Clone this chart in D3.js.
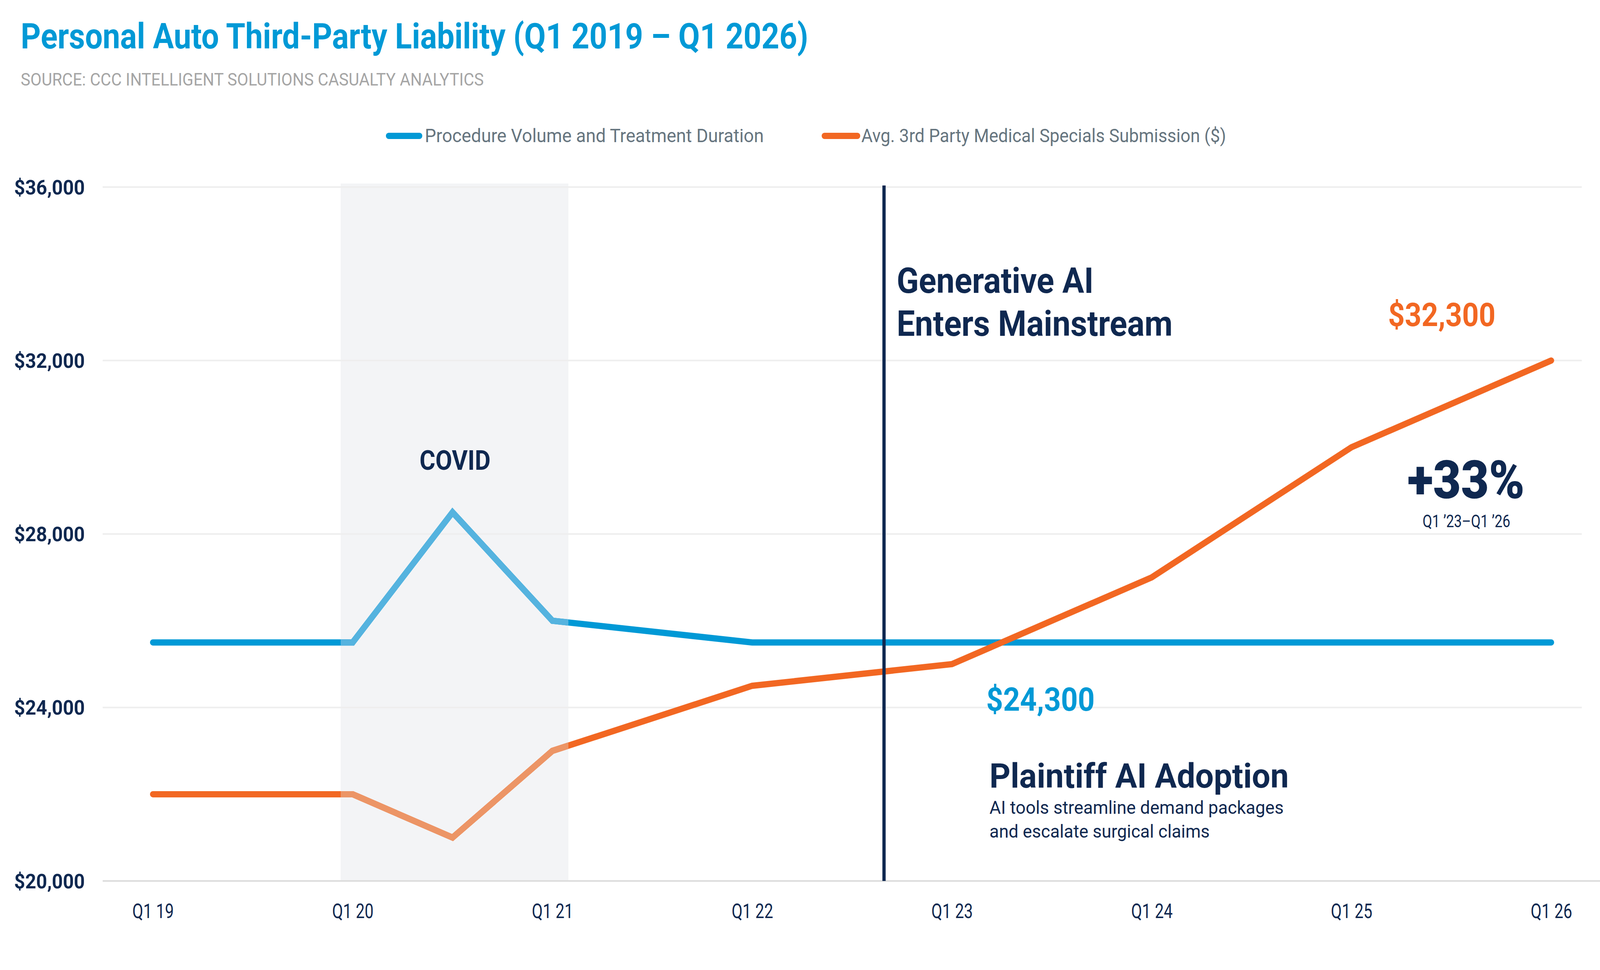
<!DOCTYPE html>
<html>
<head>
<meta charset="utf-8">
<script src="https://cdn.jsdelivr.net/npm/d3@7"></script>
<style>
  html, body { margin: 0; padding: 0; background: #ffffff; overflow: hidden; width: 100%; height: 100%; }
  #chart { width: 100vw; height: 100vh; }
  svg { display: block; width: 100vw; height: 100vh; font-family: Roboto, "Noto Sans", sans-serif; }
</style>
</head>
<body>
<div id="chart"></div>
<script>
// data
const periods = [2019, 2020, 2020.5, 2021, 2022, 2023, 2024, 2025, 2026];
const procedureValues = [25500, 25500, 28500, 26000, 25500, 25500, 25500, 25500, 25500];
const specialsValues = [22000, 22000, 21000, 23000, 24500, 25000, 27000, 30000, 32000];
const xTickYears = [2019, 2020, 2021, 2022, 2023, 2024, 2025, 2026];
const xTickLabels = ["Q1 19", "Q1 20", "Q1 21", "Q1 22", "Q1 23", "Q1 24", "Q1 25", "Q1 26"];
const yTickValues = [20000, 24000, 28000, 32000, 36000];
const covidBand = [2019.94, 2021.08];
const genAIDate = 2022.66;
const seriesNames = ["Procedure Volume and Treatment Duration", "Avg. 3rd Party Medical Specials Submission ($)"];

const W = 4395, H = 2484;
const navy = "#0f2850";
const blue = "#0099d6", blueLight = "#55b3df";
const orange = "#f26722", orangeLight = "#ec9566";

// drawn in a fixed 4395x2484 space, stretched to whatever the window is
const svg = d3.select("#chart").append("svg")
    .attr("viewBox", `0 0 ${W} ${H}`)
    .attr("preserveAspectRatio", "none");

// condense text a bit so it reads like the original narrow face
function fit(sel, len) {
    return sel.attr("textLength", len).attr("lengthAdjust", "spacingAndGlyphs");
}

// =========================
// SCALES
// =========================
const x = d3.scaleLinear().domain([2019, 2026]).range([420, 4261]);
const y = d3.scaleLinear().domain([20000, 36000]).range([2256, 479]);
const gridLeft = 282, gridRight = 4345;

// =========================
// COVID BAND
// =========================
svg.append("rect")
    .attr("x", x(covidBand[0]))
    .attr("y", y(36000) - 9)
    .attr("width", x(covidBand[1]) - x(covidBand[0]))
    .attr("height", y(20000) - y(36000) + 9)
    .attr("fill", "#f3f4f6");

// =========================
// GRID + Y AXIS
// =========================
svg.append("g")
    .selectAll("line")
    .data(yTickValues)
    .join("line")
    .attr("x1", gridLeft)
    .attr("x2", d => d === 20000 ? W : gridRight)
    .attr("y1", d => y(d))
    .attr("y2", d => y(d))
    .attr("stroke", d => d === 20000 ? "#dcdcdc" : "#eeeeee")
    .attr("stroke-width", 4);

const yAxis = svg.append("g")
    .attr("transform", "translate(233,0)")
    .call(d3.axisLeft(y).tickValues(yTickValues).tickSize(0).tickPadding(0)
        .tickFormat(d => "$" + d3.format(",")(d)));
yAxis.select(".domain").remove();
yAxis.selectAll("text")
    .attr("font-family", "Roboto, sans-serif")
    .attr("font-size", 52)
    .attr("font-weight", 700)
    .attr("fill", navy)
    .attr("dy", "0.35em")
    .call(fit, 194);

// =========================
// X AXIS
// =========================
const xAxis = svg.append("g")
    .attr("transform", "translate(0,2310)")
    .call(d3.axisBottom(x).tickValues(xTickYears).tickSize(0).tickPadding(0)
        .tickFormat((d, i) => xTickLabels[i]));
xAxis.select(".domain").remove();
xAxis.selectAll("text")
    .attr("font-family", "Roboto, sans-serif")
    .attr("font-size", 52)
    .attr("font-weight", 400)
    .attr("fill", navy)
    .attr("dy", 41)
    .call(fit, 114);

// =========================
// LINES
// =========================
const line = d3.line()
    .x((d, i) => x(periods[i]))
    .y(d => y(d));

const series = [
    { values: procedureValues, color: blue, light: blueLight },
    { values: specialsValues, color: orange, light: orangeLight }
];

svg.append("clipPath").attr("id", "covid-clip")
    .append("rect")
    .attr("x", x(covidBand[0]))
    .attr("y", 0)
    .attr("width", x(covidBand[1]) - x(covidBand[0]))
    .attr("height", H);

series.forEach(s => {
    svg.append("path")
        .datum(s.values)
        .attr("fill", "none")
        .attr("stroke", s.color)
        .attr("stroke-width", 16)
        .attr("stroke-linecap", "round")
        .attr("d", line);

    // faded stretch inside the covid band
    svg.append("path")
        .datum(s.values)
        .attr("clip-path", "url(#covid-clip)")
        .attr("fill", "none")
        .attr("stroke", s.light)
        .attr("stroke-width", 16)
        .attr("stroke-linecap", "round")
        .attr("d", line);
});

// generative AI marker
svg.append("line")
    .attr("x1", x(genAIDate))
    .attr("x2", x(genAIDate))
    .attr("y1", y(36000) - 4)
    .attr("y2", y(20000))
    .attr("stroke", navy)
    .attr("stroke-width", 9);

// =========================
// TITLE + SOURCE
// =========================
svg.append("text")
    .attr("x", 57)
    .attr("y", 124)
    .attr("font-size", 90)
    .attr("font-weight", 700)
    .attr("fill", blue)
    .text("Personal Auto Third-Party Liability (Q1 2019 \u2013 Q1 2026)")
    .call(fit, 2163);

svg.append("text")
    .attr("x", 57)
    .attr("y", 219)
    .attr("font-size", 44)
    .attr("fill", "#a5a5a5")
    .text("SOURCE: CCC INTELLIGENT SOLUTIONS CASUALTY ANALYTICS")
    .call(fit, 1272);

// =========================
// LEGEND
// =========================
const legendItems = [
    { x0: 1068, x1: 1152, tx: 1167, tw: 931, color: blue },
    { x0: 2265, x1: 2355, tx: 2366, tw: 1002, color: orange }
];
legendItems.forEach((d, i) => {
    svg.append("line")
        .attr("x1", d.x0).attr("x2", d.x1)
        .attr("y1", 348).attr("y2", 348)
        .attr("stroke", d.color)
        .attr("stroke-width", 16)
        .attr("stroke-linecap", "round");
    svg.append("text")
        .attr("x", d.tx)
        .attr("y", 364)
        .attr("font-size", 48)
        .attr("fill", "#66757f")
        .text(seriesNames[i])
        .call(fit, d.tw);
});

// =========================
// ANNOTATIONS
// =========================
function note(txt, px, py, size, weight, color, len, anchor) {
    return svg.append("text")
        .attr("x", px)
        .attr("y", py)
        .attr("font-size", size)
        .attr("font-weight", weight)
        .attr("fill", color)
        .attr("text-anchor", anchor || "start")
        .text(txt)
        .call(fit, len);
}

note("COVID", 1250, 1203, 70, 700, navy, 195, "middle");

note("Generative AI", 2463, 750, 90, 700, navy, 541);
note("Enters Mainstream", 2463, 860, 90, 700, navy, 758);

note("$32,300", 3813, 835, 84, 700, orange, 295);
note("+33%", 4027, 1276, 136, 900, navy, 322, "middle");
note("Q1 \u201923\u2013Q1 \u201926", 4028, 1350, 44, 400, navy, 241, "middle");

note("$24,300", 2709, 1820, 84, 700, blue, 298);

note("Plaintiff AI Adoption", 2718, 2017, 88, 700, navy, 822);
note("AI tools streamline demand packages", 2718, 2084, 46, 400, navy, 808);
note("and escalate surgical claims", 2718, 2145, 46, 400, navy, 605);
</script>
</body>
</html>
